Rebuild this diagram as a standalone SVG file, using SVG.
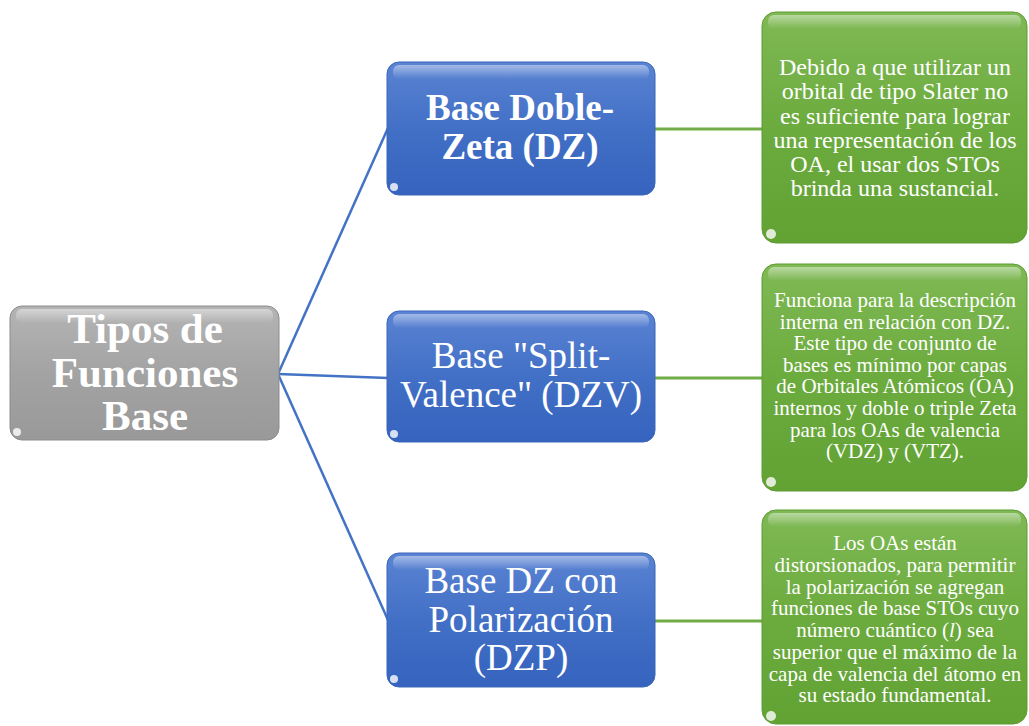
<svg xmlns="http://www.w3.org/2000/svg" width="1029" height="726" viewBox="0 0 1029 726">
<defs>
<linearGradient id="gGray" x1="0" y1="0" x2="0" y2="1">
<stop offset="0" stop-color="#b4b4b4"/><stop offset="0.5" stop-color="#a3a3a3"/><stop offset="1" stop-color="#999999"/>
</linearGradient>
<linearGradient id="gBlue" x1="0" y1="0" x2="0" y2="1">
<stop offset="0" stop-color="#5a83d3"/><stop offset="0.5" stop-color="#4270c6"/><stop offset="1" stop-color="#3563be"/>
</linearGradient>
<linearGradient id="gGreen" x1="0" y1="0" x2="0" y2="1">
<stop offset="0" stop-color="#7fb954"/><stop offset="0.5" stop-color="#6cab3e"/><stop offset="1" stop-color="#62a233"/>
</linearGradient>
<linearGradient id="gHi" x1="0" y1="0" x2="0" y2="1">
<stop offset="0" stop-color="#ffffff" stop-opacity="0.45"/><stop offset="1" stop-color="#ffffff" stop-opacity="0"/>
</linearGradient>
</defs>
<style>
.gray{fill:url(#gGray);stroke:#8c8c8c;stroke-width:1}
.blue{fill:url(#gBlue);stroke:#3a66bb;stroke-width:1}
.green{fill:url(#gGreen);stroke:#5e9b33;stroke-width:1}
.hi{fill:url(#gHi)}
.blob{fill:#ffffff;opacity:0.8}
.t{font-family:"Liberation Serif","Times New Roman",serif;fill:#ffffff;text-anchor:middle}
.b{font-weight:bold}
.c1{stroke:#4472c4;stroke-width:2.5;fill:none}
.c2{stroke:#70ad47;stroke-width:3;fill:none}
</style>
<g id="connectors">
<line class="c1" x1="278" y1="374" x2="388" y2="128"/>
<line class="c1" x1="278" y1="374" x2="388" y2="378"/>
<line class="c1" x1="278" y1="374" x2="388" y2="620"/>
<line class="c2" x1="655" y1="129" x2="763" y2="129"/>
<line class="c2" x1="655" y1="378" x2="763" y2="378"/>
<line class="c2" x1="655" y1="621" x2="763" y2="621"/>
</g>
<g id="root">
<rect class="gray" x="10" y="306" width="269" height="134" rx="12"/>
<rect class="hi" x="16" y="309" width="257" height="14" rx="6"/>
<circle class="blob" cx="17" cy="432" r="4"/>
<text class="t b" font-size="43"><tspan x="145" y="343">Tipos de</tspan><tspan x="145" y="387">Funciones</tspan><tspan x="145" y="430">Base</tspan></text>
</g>
<g id="n-dz">
<rect class="blue" x="387" y="62" width="268" height="133" rx="12"/>
<rect class="hi" x="393" y="65" width="256" height="14" rx="6"/>
<circle class="blob" cx="394" cy="187" r="4"/>
<text class="t b" font-size="37"><tspan x="520" y="120">Base Doble-</tspan><tspan x="520" y="159">Zeta (DZ)</tspan></text>
</g>
<g id="n-dzv">
<rect class="blue" x="387" y="311" width="268" height="131" rx="12"/>
<rect class="hi" x="393" y="314" width="256" height="14" rx="6"/>
<circle class="blob" cx="394" cy="434" r="4"/>
<text class="t" font-size="37"><tspan x="521" y="368">Base "Split-</tspan><tspan x="521" y="407">Valence" (DZV)</tspan></text>
</g>
<g id="n-dzp">
<rect class="blue" x="387" y="553" width="268" height="134" rx="12"/>
<rect class="hi" x="393" y="556" width="256" height="14" rx="6"/>
<circle class="blob" cx="394" cy="679" r="4"/>
<text class="t" font-size="37"><tspan x="521" y="593">Base DZ con</tspan><tspan x="521" y="632">Polarización</tspan><tspan x="521" y="670">(DZP)</tspan></text>
</g>
<g id="d-dz">
<rect class="green" x="762" y="12" width="265" height="231" rx="14"/>
<rect class="hi" x="768" y="15" width="253" height="14" rx="6"/>
<circle class="blob" cx="771" cy="234" r="5"/>
<text class="t" font-size="24"><tspan x="895" y="75">Debido a que utilizar un</tspan><tspan x="895" y="99">orbital de tipo Slater no</tspan><tspan x="895" y="124">es suficiente para lograr</tspan><tspan x="895" y="148">una representación de los</tspan><tspan x="895" y="172">OA, el usar dos STOs</tspan><tspan x="895" y="196">brinda una sustancial.</tspan></text>
</g>
<g id="d-dzv">
<rect class="green" x="762" y="264" width="265" height="227" rx="14"/>
<rect class="hi" x="768" y="267" width="253" height="14" rx="6"/>
<circle class="blob" cx="771" cy="482" r="5"/>
<text class="t" font-size="21"><tspan x="895" y="307">Funciona para la descripción</tspan><tspan x="895" y="329">interna en relación con DZ.</tspan><tspan x="895" y="350">Este tipo de conjunto de</tspan><tspan x="895" y="372">bases es mínimo por capas</tspan><tspan x="895" y="393">de Orbitales Atómicos (OA)</tspan><tspan x="895" y="415">internos y doble o triple Zeta</tspan><tspan x="895" y="437">para los OAs de valencia</tspan><tspan x="895" y="458">(VDZ) y (VTZ).</tspan></text>
</g>
<g id="d-dzp">
<rect class="green" x="762" y="510" width="265" height="214" rx="14"/>
<rect class="hi" x="768" y="513" width="253" height="14" rx="6"/>
<circle class="blob" cx="771" cy="716" r="5"/>
<text class="t" font-size="21"><tspan x="895" y="550">Los OAs están</tspan><tspan x="895" y="572">distorsionados, para permitir</tspan><tspan x="895" y="594">la polarización se agregan</tspan><tspan x="895" y="615">funciones de base STOs cuyo</tspan><tspan x="895" y="637">número cuántico (<tspan font-style="italic">l</tspan>) sea</tspan><tspan x="895" y="659">superior que el máximo de la</tspan><tspan x="895" y="681">capa de valencia del átomo en</tspan><tspan x="895" y="702">su estado fundamental.</tspan></text>
</g>
</svg>
